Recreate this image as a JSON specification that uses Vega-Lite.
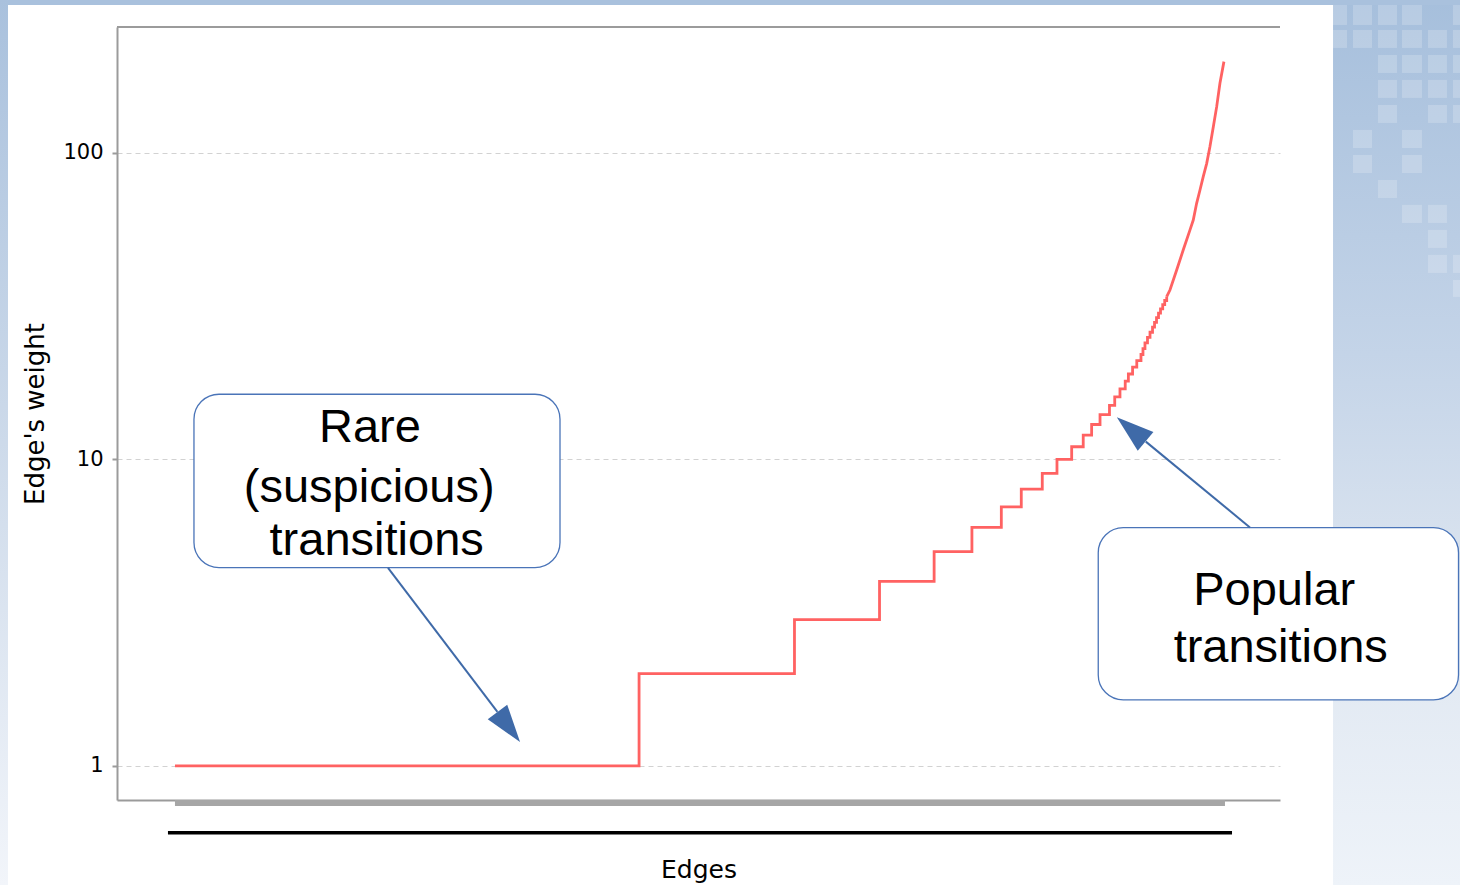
{
  "$schema": "https://vega.github.io/schema/vega-lite/v6.json",
  "width": 1163,
  "height": 773,
  "autosize": {"type": "none"},
  "padding": {"left": 117, "top": 27, "right": 180, "bottom": 85},
  "background": "#ffffff",
  "config": {"view": {"stroke": null}, "font": "DejaVu Sans"},
  "datasets": {
    "steps": [
      {"x": 0, "y": 1}, {"x": 442, "y": 2}, {"x": 590, "y": 3}, {"x": 671, "y": 4},
      {"x": 723, "y": 5}, {"x": 759, "y": 6}, {"x": 787, "y": 7}, {"x": 806, "y": 8},
      {"x": 826, "y": 9}, {"x": 840, "y": 10}, {"x": 854, "y": 11}, {"x": 865, "y": 12},
      {"x": 873, "y": 13}, {"x": 881, "y": 14}, {"x": 890, "y": 15}, {"x": 895, "y": 16},
      {"x": 900, "y": 17}, {"x": 905, "y": 18}, {"x": 908, "y": 19}, {"x": 912, "y": 20},
      {"x": 916, "y": 21}, {"x": 920, "y": 22}, {"x": 921.9, "y": 23}, {"x": 923.8, "y": 24},
      {"x": 926.2, "y": 25}, {"x": 928.6, "y": 26}, {"x": 931, "y": 27}, {"x": 932.9, "y": 28},
      {"x": 934.8, "y": 29}, {"x": 936.7, "y": 30}, {"x": 938.6, "y": 31}, {"x": 940.7, "y": 32},
      {"x": 942.6, "y": 33}, {"x": 944.5, "y": 34}
    ],
    "curve": [
      {"x": 944.5, "y": 34}, {"x": 947.6, "y": 35.7}, {"x": 954, "y": 41.5}, {"x": 960.3, "y": 48.3},
      {"x": 966.7, "y": 56.1}, {"x": 969.8, "y": 60.4}, {"x": 973, "y": 68.5}, {"x": 976.2, "y": 75.7},
      {"x": 979.3, "y": 83.7}, {"x": 982.6, "y": 92.5}, {"x": 985.7, "y": 104.9}, {"x": 988.9, "y": 121.8},
      {"x": 992.1, "y": 141.6}, {"x": 995.2, "y": 168.8}, {"x": 999, "y": 198.6}
    ],
    "squares": [
      {"x": 1102.9, "x2": 1116.2, "y": 304.0, "y2": 261.6},
      {"x": 1121.9, "x2": 1140.0, "y": 304.0, "y2": 261.6},
      {"x": 1145.7, "x2": 1163.8, "y": 304.0, "y2": 261.6},
      {"x": 1168.6, "x2": 1187.6, "y": 304.0, "y2": 261.6},
      {"x": 1217.1, "x2": 1235.2, "y": 304.0, "y2": 261.6},
      {"x": 1102.9, "x2": 1116.2, "y": 251.9, "y2": 220.1},
      {"x": 1121.9, "x2": 1140.0, "y": 251.9, "y2": 220.1},
      {"x": 1145.7, "x2": 1163.8, "y": 251.9, "y2": 220.1},
      {"x": 1168.6, "x2": 1187.6, "y": 251.9, "y2": 220.1},
      {"x": 1193.3, "x2": 1211.4, "y": 251.9, "y2": 220.1},
      {"x": 1217.1, "x2": 1235.2, "y": 251.9, "y2": 220.1},
      {"x": 1145.7, "x2": 1163.8, "y": 208.8, "y2": 182.4},
      {"x": 1168.6, "x2": 1187.6, "y": 208.8, "y2": 182.4},
      {"x": 1193.3, "x2": 1211.4, "y": 208.8, "y2": 182.4},
      {"x": 1217.1, "x2": 1235.2, "y": 208.8, "y2": 182.4},
      {"x": 1145.7, "x2": 1163.8, "y": 173.1, "y2": 151.2},
      {"x": 1168.6, "x2": 1187.6, "y": 173.1, "y2": 151.2},
      {"x": 1193.3, "x2": 1211.4, "y": 173.1, "y2": 151.2},
      {"x": 1217.1, "x2": 1235.2, "y": 173.1, "y2": 151.2},
      {"x": 1145.7, "x2": 1163.8, "y": 143.4, "y2": 125.3},
      {"x": 1193.3, "x2": 1211.4, "y": 143.4, "y2": 125.3},
      {"x": 1217.1, "x2": 1235.2, "y": 143.4, "y2": 125.3},
      {"x": 1121.9, "x2": 1140.0, "y": 118.9, "y2": 103.8},
      {"x": 1168.6, "x2": 1187.6, "y": 118.9, "y2": 103.8},
      {"x": 1121.9, "x2": 1140.0, "y": 98.5, "y2": 86.0},
      {"x": 1168.6, "x2": 1187.6, "y": 98.5, "y2": 86.0},
      {"x": 1145.7, "x2": 1163.8, "y": 81.6, "y2": 71.3},
      {"x": 1168.6, "x2": 1187.6, "y": 67.7, "y2": 59.1},
      {"x": 1193.3, "x2": 1211.4, "y": 67.7, "y2": 59.1},
      {"x": 1193.3, "x2": 1211.4, "y": 56.1, "y2": 49.0},
      {"x": 1193.3, "x2": 1211.4, "y": 46.5, "y2": 40.6},
      {"x": 1217.1, "x2": 1235.2, "y": 46.5, "y2": 40.6},
      {"x": 1217.1, "x2": 1235.2, "y": 38.5, "y2": 33.9}
    ],
    "boxes": [
      {"x": 18.1, "x2": 366.7, "y": 16.32, "y2": 4.436},
      {"x": 879.3, "x2": 1222.4, "y": 5.99, "y2": 1.642}
    ],
    "arrows": [
      {"x": 202.9, "y": 4.43, "x2": 307.1, "y2": 1.5},
      {"x": 1023.8, "y": 6.0, "x2": 924.6, "y2": 11.43}
    ],
    "labels": [
      {"x": 185.7, "y": 11.43, "t": "Rare"},
      {"x": 184.95, "y": 7.285, "t": "(suspicious)"},
      {"x": 192.1, "y": 4.88, "t": "transitions"},
      {"x": 1046.9, "y": 3.352, "t": "Popular"},
      {"x": 1053.1, "y": 2.189, "t": "transitions"}
    ]
  },
  "encoding": {
    "x": {
      "field": "x", "type": "quantitative",
      "scale": {"domain": [-55.2, 1052.4], "nice": false, "zero": false},
      "axis": {
        "title": "Edges", "labels": false, "ticks": false, "grid": false,
        "domainColor": "#9b9b9b", "domainWidth": 2,
        "titleFont": "DejaVu Sans", "titleFontSize": 25, "titleFontWeight": "normal",
        "titleColor": "#000000", "titlePadding": 57
      }
    },
    "y": {
      "field": "y", "type": "quantitative",
      "scale": {"type": "log", "domain": [0.774, 257.6], "nice": false},
      "axis": {
        "title": "Edge's weight", "values": [1, 10, 100], "format": "d",
        "labelFont": "DejaVu Sans", "labelFontSize": 21, "labelColor": "#000000", "labelPadding": 9,
        "tickSize": 5, "tickColor": "#9b9b9b", "tickWidth": 2,
        "domainColor": "#9b9b9b", "domainWidth": 2,
        "grid": true, "gridColor": "#d2d2d2", "gridDash": [5, 4], "gridWidth": 1,
        "titleFont": "DejaVu Sans", "titleFontSize": 26, "titleFontWeight": "normal",
        "titleColor": "#000000", "titlePadding": 14
      }
    }
  },
  "layer": [
    {
      "data": {"values": [{"x": 1102.9, "x2": 1240, "y": 316, "y2": 0.409}]},
      "mark": {"type": "rect", "clip": false, "fill": {"gradient": "linear", "x1": 0, "y1": 0, "x2": 0, "y2": 1,
        "stops": [{"offset": 0, "color": "#a6bfdc"}, {"offset": 0.4, "color": "#c4d4e8"}, {"offset": 0.7, "color": "#dfe7f1"}, {"offset": 1, "color": "#eef3f9"}]}},
      "encoding": {"x2": {"field": "x2"}, "y2": {"field": "y2"}}
    },
    {
      "data": {"name": "squares"},
      "mark": {"type": "rect", "clip": false, "fill": "#ffffff", "opacity": 0.2},
      "encoding": {"x2": {"field": "x2"}, "y2": {"field": "y2"}}
    },
    {
      "data": {"values": [{"x": -166.7, "x2": 1240, "y": 316, "y2": 304}]},
      "mark": {"type": "rect", "clip": false, "fill": "#a9c1dd"},
      "encoding": {"x2": {"field": "x2"}, "y2": {"field": "y2"}}
    },
    {
      "data": {"values": [{"x": -166.7, "x2": -159.0, "y": 316, "y2": 0.409}]},
      "mark": {"type": "rect", "clip": false, "fill": {"gradient": "linear", "x1": 0, "y1": 0, "x2": 0, "y2": 1,
        "stops": [{"offset": 0, "color": "#a9c1dd"}, {"offset": 0.5, "color": "#cddaea"}, {"offset": 1, "color": "#f2f5fa"}]}},
      "encoding": {"x2": {"field": "x2"}, "y2": {"field": "y2"}}
    },
    {
      "data": {"values": [{"x": 0, "x2": 1000, "y": 0.774, "y2": 0.74}]},
      "mark": {"type": "rect", "clip": false, "fill": "#a6a6a6"},
      "encoding": {"x2": {"field": "x2"}, "y2": {"field": "y2"}}
    },
    {
      "data": {"values": [{"x": -6.67, "x2": 1006.7, "y": 0.6047}]},
      "mark": {"type": "rule", "clip": false, "color": "#000000", "strokeWidth": 3.5},
      "encoding": {"x2": {"field": "x2"}}
    },
    {
      "data": {"values": [{"x": -55.2, "x2": 1052.4, "y": 257.6}]},
      "mark": {"type": "rule", "clip": false, "color": "#9b9b9b", "strokeWidth": 2},
      "encoding": {"x2": {"field": "x2"}}
    },
    {
      "data": {"name": "steps"},
      "mark": {"type": "line", "interpolate": "step-after", "color": "#ff6262", "strokeWidth": 2.8, "clip": false}
    },
    {
      "data": {"name": "curve"},
      "mark": {"type": "line", "color": "#ff6262", "strokeWidth": 2.8, "clip": false}
    },
    {
      "data": {"name": "boxes"},
      "mark": {"type": "rect", "clip": false, "fill": "#ffffff", "stroke": "#4a74b8", "strokeWidth": 1.3, "cornerRadius": 25},
      "encoding": {"x2": {"field": "x2"}, "y2": {"field": "y2"}}
    },
    {
      "data": {"name": "arrows"},
      "mark": {"type": "rule", "clip": false, "color": "#3f6aa8", "strokeWidth": 2},
      "encoding": {"x2": {"field": "x2"}, "y2": {"field": "y2"}}
    },
    {
      "data": {"values": [{"x": 317.9, "y": 1.34}]},
      "mark": {"type": "point", "clip": false, "filled": true, "color": "#3f6aa8", "opacity": 1,
        "shape": "M0,-1L0.65,1L-0.65,1Z", "size": 1406, "angle": 143}
    },
    {
      "data": {"values": [{"x": 910.7, "y": 12.53}]},
      "mark": {"type": "point", "clip": false, "filled": true, "color": "#3f6aa8", "opacity": 1,
        "shape": "M0,-1L0.65,1L-0.65,1Z", "size": 1406, "angle": 310}
    },
    {
      "data": {"name": "labels"},
      "mark": {"type": "text", "clip": false, "font": "Liberation Sans", "fontSize": 47, "align": "center", "baseline": "alphabetic", "color": "#000000"},
      "encoding": {"text": {"field": "t"}}
    }
  ]
}
